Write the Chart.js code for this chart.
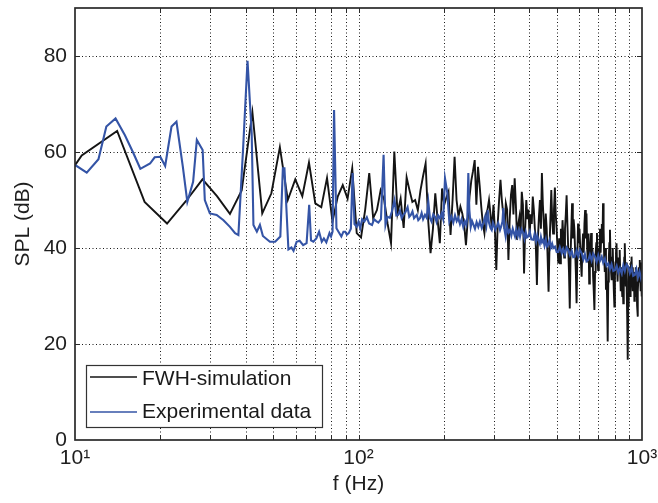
<!DOCTYPE html>
<html>
<head>
<meta charset="utf-8">
<script src="https://cdn.jsdelivr.net/npm/chart.js@4.4.1/dist/chart.umd.min.js"></script>
<style>
html,body{margin:0;padding:0;background:#ffffff;}
#c{display:block;}
</style>
</head>
<body>
<canvas id="c" width="658" height="503"></canvas>
<script>
// ---------------- DATA ----------------
// FWH simulation: narrow-band spectrum, uniform bin spacing (bin k -> k * FWH_DF Hz), first bin k = FWH_K0
const FWH_DF = 3.52;
const FWH_K0 = 2;
const fwhSPL = [
  44, 59.3, 64.4, 49.6, 45.1, 49.8, 54.3, 50.8, 47.1, 52, 68.3,
  47.2, 51.4, 61.0, 50.0, 54.3, 50.8, 57.8, 49.3, 48.5, 54.6,
  45.5, 50.7, 53.1, 50.3, 56.6, 43.1, 42.2, 48, 55.6, 46.2,
  47.9, 52, 50, 45, 41, 60.1, 47.2, 50.3, 44.2, 54.7,
  52, 49.6, 50, 47.9, 52, 55, 57.6, 46, 38.9, 44,
  51.4, 46, 41.0, 52.4, 49, 50.5, 51.7, 42.7, 50, 59.0,
  50, 46.5, 48.6, 47.2, 45, 40.6, 46, 50.7, 54, 56,
  58.3, 49, 56.9, 53, 48.6, 45, 43.1, 47, 48, 50,
  47, 43.8, 49, 44, 35.4, 45, 50, 54.2, 50, 47.2,
  44, 49.3, 48, 37.5, 46, 51, 53.1, 47, 54.5, 49,
  41.7, 45, 46.5, 43, 51.7, 49, 34.7, 44, 50, 46,
  48, 42.4, 47, 45, 50.7, 48, 44, 40, 32.3, 42,
  46.5, 50, 44, 55.6, 49, 45, 41, 47.2, 44, 38,
  30.9, 40, 46, 52.1, 46, 43, 48, 52.6, 47, 44,
  40, 36.8, 42, 36.8, 44, 40, 45.8, 42, 38, 44,
  47, 51, 45, 40, 35, 27.4, 38, 44, 49.3, 42,
  46, 44, 39.6, 35, 28.5, 38, 45.1, 41, 44, 40,
  37, 34, 40, 43, 39, 45, 47.9, 42, 47.2, 40,
  37, 43, 32.6, 38, 41, 43.1, 36, 40, 34, 31,
  27.1, 35, 39, 41, 43.1, 38, 35.4, 40, 37, 44,
  39, 42.4, 45, 41, 49.3, 44, 38, 35, 40, 31.3,
  36, 29, 20.5, 33, 38, 41, 43.8, 38, 35, 33.3,
  38, 40, 35, 31, 27.8, 34, 37, 39, 41, 36,
  33, 38, 35, 37, 39.6, 35, 31, 36, 33, 30,
  34, 28.5, 35, 38, 41, 36, 32, 37, 31, 25,
  16.7, 28, 33, 36.1, 33, 30, 35, 37, 38.2, 34,
  31, 36, 33, 35, 29, 31.3, 34, 36, 30, 33,
  28, 25.7, 31, 34, 36, 33, 37.5, 34, 31, 35, 29.9, 37
];

// Experimental data (frequency in Hz, SPL in dB)
const expFreq = [
  10, 11, 12.1, 12.9, 13.9, 15, 16, 17, 18.4, 19.1,
  20, 20.8, 21.9, 22.8, 24, 24.9, 26.1, 26.9, 28.2, 28.7,
  29.9, 31.6, 33.4, 35.2, 36.7, 37.7, 39.2, 40.6, 42.0, 42.6,
  43.8, 44.9, 46, 48.7, 50.8, 53, 54.1, 54.8, 56.6, 58,
  59, 60.5, 62, 63.8, 65.6, 67, 68, 69.3, 71, 72.6,
  74.2, 75.5, 77, 79, 80, 81, 82, 83.6, 85, 87,
  88.5, 89.8, 91, 92.4, 94, 95.3, 96.8, 98.6, 100, 101.4,
  103, 104.9, 107, 109, 111.6, 113.5, 115.5, 117.5, 120, 122.6,
  124.5, 126.5, 129, 131, 134, 136, 138, 140, 142, 144,
  146.5, 149, 151, 153, 155, 157, 160.5, 162.5, 164.8, 167,
  169, 171.6, 174, 176.3, 178.7, 181, 183.5, 186.1, 188.5, 191,
  193.9, 196.5, 199, 201.9, 205.7, 209.1, 212.5, 216, 219, 222,
  224.9, 228, 231, 234.2, 237, 240, 242, 244, 246, 248.8,
  251.5, 254.5, 257.5, 261, 264.6, 268, 272.1, 275.5, 279.5, 282.5,
  285.6, 288.5, 292, 295, 298, 301, 304, 307.3, 311, 315.6,
  319, 322, 324.2, 327, 330.5, 334, 338, 342.2, 346, 350,
  353, 356.5, 360, 364, 367.5, 371.3, 376, 381.4, 385, 389,
  393, 397.2, 402, 407, 413.7, 418, 423, 427, 430.8, 436,
  440, 444, 448.7, 453, 458, 462, 467.2, 472, 477, 482,
  486.6, 493.3, 500, 506.8, 513, 521.2, 528, 535, 542, 549.6,
  557, 565, 572, 580.2, 588, 596, 604, 612.9, 621, 629,
  637, 646.6, 655, 664, 673, 682.8, 692, 701, 710, 720.9,
  730, 740, 750, 760.4, 771, 781, 792, 803.2, 814, 825,
  836, 848, 859, 870, 882, 894.7, 906, 919, 931, 944.7,
  956, 968, 980, 992, 1000
];
const expSPL = [
  57.3, 55.7, 58.5, 65.3, 67.0, 63.5, 60, 56.5, 57.6, 58.9,
  59.0, 57.1, 65.3, 66.3, 57, 49.6, 53.8, 62.5, 60.4, 50,
  47.2, 46.9, 45.8, 44.4, 43.1, 42.7, 61.1, 79.0, 63.9, 44.8,
  43.4, 44.8, 42.5, 41.3, 41.3, 42.4, 56.6, 56.6, 39.7, 40.1,
  39.4, 41.3, 41.5, 40.6, 41, 49, 41.6, 41.3, 42, 43.4,
  41.3, 42, 41.2, 43.1, 42.4, 43.4, 68.75, 44.1, 43.4, 42.4,
  43.4, 43.4, 42.8, 43.1, 44, 55.6, 45, 44.4, 45.5, 44.1,
  46, 45.5, 46.4, 45.1, 44.8, 46, 45.6, 45.3, 46, 59.4,
  44.8, 46.5, 46.3, 47.5, 50, 46.8, 46.9, 47.8, 46.2, 46.9,
  47.5, 48.5, 46.5, 46.9, 47.6, 46.2, 46.9, 45.8, 46.2, 47.3,
  46.0, 46.9, 46.3, 49.6, 46.2, 45.5, 47, 46.5, 45.4, 46.8,
  46.2, 47.2, 46, 54.5, 51.5, 45.5, 46.6, 45.3, 46.8, 45.6,
  46.3, 45, 46, 44.4, 45.6, 44.8, 46.3, 55.6, 48, 44.4,
  45.6, 44.8, 44.0, 45.4, 44.4, 45.5, 44.2, 45.2, 46.5, 44.8,
  47.9, 45.3, 44.2, 43.75, 45.3, 44.6, 43.8, 44.4, 45.2, 43.75,
  44.6, 45.5, 48.3, 44, 42.4, 44.5, 43.2, 43.75, 42.6, 44,
  43.2, 42.4, 43.8, 42.5, 43.6, 42.4, 43.9, 43.1, 41.9, 43.3,
  42.2, 42.4, 43.4, 41.8, 41.7, 42.9, 41.4, 42.6, 41.7, 40.9,
  42.3, 41.2, 41.7, 40.5, 41.8, 40.3, 40.7, 41.6, 40.1, 40.9,
  40.0, 40.3, 39.2, 39.2, 40.2, 38.9, 39.8, 38.7, 40.1, 39.6,
  38.5, 39.4, 38.1, 38.2, 39.5, 38.3, 39.6, 38.9, 37.6, 38.7,
  37.2, 37.5, 38.6, 37.4, 38.8, 38.2, 37.1, 38.5, 37.3, 38.2,
  36.9, 37.8, 36.3, 36.8, 35.6, 36.6, 35.2, 35.4, 36.3, 34.9,
  35.8, 34.7, 36.4, 35.2, 36.6, 36.1, 34.8, 35.9, 34.2, 34.4,
  35.6, 33.9, 35.1, 33.7, 34.5
];

// Axis ticks / labels
const xGridValues = [20, 30, 40, 50, 60, 70, 80, 90, 100, 200, 300, 400, 500, 600, 700, 800, 900];
const xTickLabels = {10: '10\u00B9', 100: '10\u00B2', 1000: '10\u00B3'};
const yGridValues = [20, 40, 60, 80];
const seriesNames = ['FWH-simulation', 'Experimental data'];

// ---------------- BUILD ----------------
const fwhPoints = fwhSPL.map((v, i) => ({x: (FWH_K0 + i) * FWH_DF, y: v}));
const expPoints = expFreq.map((f, i) => ({x: f, y: expSPL[i]}));

const FONT_FAMILY = '"Liberation Sans", Arial, Helvetica, sans-serif';
const BLACK = '#141414';
const BLUE = '#3454a6';
const AXIS = '#2a2a2a';

const framePlugin = {
  id: 'frame',
  beforeDatasetsDraw(chart) {
    const {ctx, chartArea: a, scales: {x, y}} = chart;
    ctx.save();
    ctx.strokeStyle = 'rgba(0,0,0,0.9)';
    ctx.lineWidth = 1;
    ctx.setLineDash([1, 2.5]);
    ctx.beginPath();
    xGridValues.forEach(v => {
      const px = Math.round(x.getPixelForValue(v)) + 0.5;
      ctx.moveTo(px, a.top); ctx.lineTo(px, a.bottom);
    });
    yGridValues.forEach(v => {
      const py = Math.round(y.getPixelForValue(v)) + 0.5;
      ctx.moveTo(a.left, py); ctx.lineTo(a.right, py);
    });
    ctx.stroke();
    ctx.restore();
  },
  afterDatasetsDraw(chart) {
    const {ctx, chartArea: a, scales: {x, y}} = chart;
    ctx.save();
    // inward ticks
    ctx.strokeStyle = AXIS;
    ctx.lineWidth = 1;
    ctx.beginPath();
    const tl = 5;
    xGridValues.forEach(v => {
      const px = Math.round(x.getPixelForValue(v)) + 0.5;
      ctx.moveTo(px, a.bottom); ctx.lineTo(px, a.bottom - tl);
      ctx.moveTo(px, a.top); ctx.lineTo(px, a.top + tl);
    });
    yGridValues.forEach(v => {
      const py = Math.round(y.getPixelForValue(v)) + 0.5;
      ctx.moveTo(a.left, py); ctx.lineTo(a.left + tl, py);
      ctx.moveTo(a.right, py); ctx.lineTo(a.right - tl, py);
    });
    ctx.stroke();
    // frame box
    ctx.lineWidth = 1.7;
    ctx.strokeRect(a.left, a.top, a.right - a.left, a.bottom - a.top);

    // legend
    const lx = a.left + 11, ly = a.bottom - 75, lw = 236, lh = 62;
    ctx.fillStyle = '#ffffff';
    ctx.fillRect(lx, ly, lw, lh);
    ctx.lineWidth = 1.2;
    ctx.strokeStyle = '#333333';
    ctx.strokeRect(lx + 0.5, ly + 0.5, lw, lh);
    const rows = [{c: BLACK, t: seriesNames[0], dy: 12, ty: 14}, {c: BLUE, t: seriesNames[1], dy: 47, ty: 47}];
    ctx.font = '21px ' + FONT_FAMILY;
    ctx.textBaseline = 'middle';
    ctx.textAlign = 'left';
    rows.forEach(r => {
      ctx.strokeStyle = r.c;
      ctx.lineWidth = 1.4;
      ctx.beginPath();
      ctx.moveTo(lx + 4, ly + r.dy); ctx.lineTo(lx + 51, ly + r.dy);
      ctx.stroke();
      ctx.fillStyle = '#1a1a1a';
      ctx.fillText(r.t, lx + 56, ly + r.ty);
    });
    ctx.restore();
  }
};

new Chart(document.getElementById('c'), {
  type: 'line',
  data: {
    datasets: [
      {label: seriesNames[0], data: fwhPoints, borderColor: BLACK, borderWidth: 1.9, pointRadius: 0, tension: 0, fill: false, order: 2},
      {label: seriesNames[1], data: expPoints, borderColor: BLUE, borderWidth: 2.1, pointRadius: 0, tension: 0, fill: false, order: 1}
    ]
  },
  options: {
    responsive: false,
    animation: false,
    events: [],
    layout: {padding: {top: 8, right: 16, bottom: 0, left: 0}},
    plugins: {legend: {display: false}, tooltip: {enabled: false}},
    scales: {
      x: {
        type: 'logarithmic', min: 10, max: 1000,
        grid: {display: false, drawTicks: false},
        border: {display: false},
        ticks: {
          autoSkip: false, maxRotation: 0, minRotation: 0, padding: 6,
          color: '#1e1e1e', font: {family: FONT_FAMILY, size: 21},
          callback: (v) => {
            const key = Math.round(v);
            return (Math.abs(v - key) < 1e-6 && xTickLabels[key]) ? xTickLabels[key] : '';
          }
        },
        title: {display: true, text: 'f (Hz)', color: '#1e1e1e', font: {family: FONT_FAMILY, size: 21}, padding: {top: 0, bottom: 6}},
        afterFit(s) { s.height = 63; s.paddingLeft = 0; s.paddingRight = 0; }
      },
      y: {
        type: 'linear', min: 0, max: 90,
        grid: {display: false, drawTicks: false},
        border: {display: false},
        ticks: {
          stepSize: 20, includeBounds: false, padding: 8,
          color: '#1e1e1e', font: {family: FONT_FAMILY, size: 21},
          callback: (v) => (v % 20 === 0 ? String(v) : '')
        },
        title: {display: true, text: 'SPL (dB)', color: '#1e1e1e', font: {family: FONT_FAMILY, size: 21}, padding: {top: 11, bottom: 0}},
        afterFit(s) { s.width = 75; s.paddingTop = 0; s.paddingBottom = 0; }
      }
    }
  },
  plugins: [framePlugin]
});
</script>
</body>
</html>
